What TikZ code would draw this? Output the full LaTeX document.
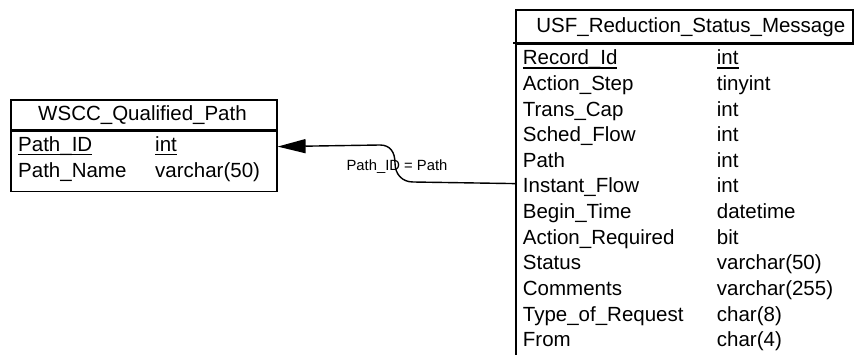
\documentclass[tikz,border=0pt]{standalone}
\usepackage{fontspec}
\setmainfont{Liberation Sans}
\usetikzlibrary{arrows.meta,calc}

% underlined key column entry
\newcommand\keyul[1]{\setbox0\hbox{#1}\rlap{\rule[-3.6pt]{\wd0}{1.4pt}}\box0}

\tikzset{
  tbl/.style={draw=black, line width=1.6pt, inner sep=0pt, anchor=north west},
  cell/.style={anchor=base west, inner sep=0pt, font=\fontsize{20.5}{24}\selectfont},
  ttl/.style={anchor=base, inner sep=0pt, font=\fontsize{20.5}{24}\selectfont},
  conn/.style={line width=1.4pt, line join=round},
  rel/.style={anchor=base, inner sep=0pt, font=\fontsize{14.8}{18}\selectfont},
}

\begin{document}
\begin{tikzpicture}[x=1pt,y=-1pt]
\useasboundingbox (0,0) rectangle (854,355);

% ---- table WSCC_Qualified_Path ----
\node[tbl, minimum width=266pt, minimum height=30pt] (wsccT) at (10,99) {};
\node[tbl, minimum width=266pt, minimum height=60pt] (wsccB) at (wsccT.south west) {};
\node[ttl] (wsccTitle) at (142.5,120.7) {WSCC\_Qualified\_Path};
\node[cell] (w1a) at (18,151.7) {\keyul{Path\_ID}};
\node[cell] (w1b) at (155,151.7) {\keyul{int}};
\node[cell] (w2a) at (18,177.3) {Path\_Name};
\node[cell] (w2b) at (155,177.3) {varchar(50)};

% ---- table USF_Reduction_Status_Message ----
\node[tbl, minimum width=337pt, minimum height=32.7pt] (usfT) at (515,9) {};
\node[tbl, minimum width=360pt, minimum height=330pt] (usfB) at (usfT.south west) {};
\draw[line width=1.6pt] (usfB.north west) -- ++(-2.5,0);
\node[ttl] (usfTitle) at (690.8,32.3) {USF\_Reduction\_Status\_Message};

\foreach \i/\fa/\fb in {
  0/\keyul{Record\_Id}/\keyul{int},
  1/Action\_Step/tinyint,
  2/Trans\_Cap/int,
  3/Sched\_Flow/int,
  4/Path/int,
  5/Instant\_Flow/int,
  6/Begin\_Time/datetime,
  7/Action\_Required/bit,
  8/Status/varchar(50),
  9/Comments/varchar(255),
  10/Type\_of\_Request/char(8),
  11/From/char(4)}{
  \node[cell] (ua\i) at (522.7,65+25.6*\i) {\fa};
  \node[cell] (ub\i) at (716.7,65+25.6*\i) {\fb};
}

% ---- relationship ----
\coordinate (tip) at ($(wsccB.north east)+(0,16)$);
\coordinate (fk) at ($(usfB.north west)+(0,140.3)$);
\draw[conn, -{Triangle[length=28pt,width=14pt]}]
  (fk) -- (413,182)
  .. controls (402,182) and (395,174) .. (395,163)
  .. controls (395,152) and (390,145) .. (380,145)
  -- (tip);
\node[rel] (relLabel) at (397,171) {Path\_ID = Path};
\end{tikzpicture}
\end{document}
